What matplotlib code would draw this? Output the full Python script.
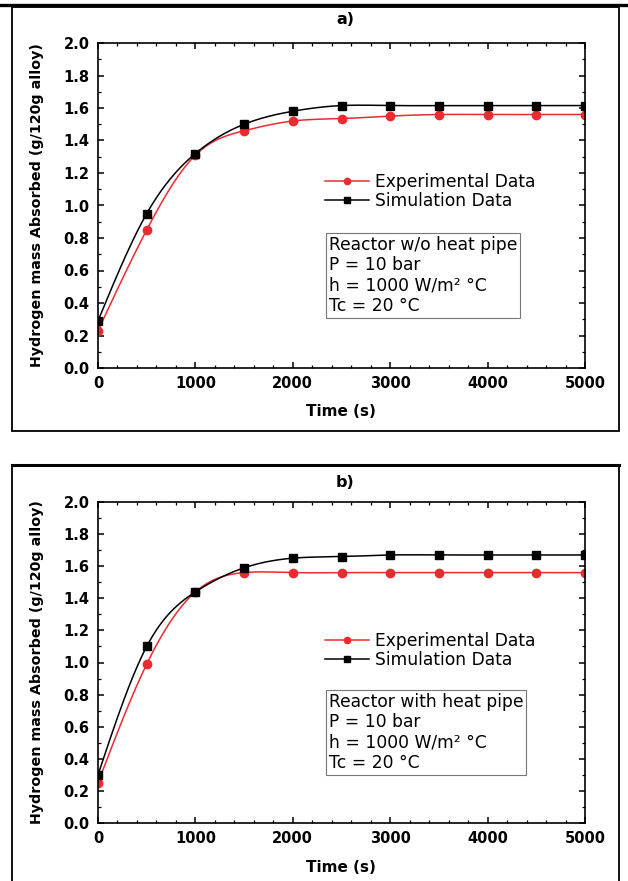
import numpy as np
import matplotlib
matplotlib.use("Agg")
import matplotlib.pyplot as plt
from matplotlib.patches import Rectangle
from matplotlib.lines import Line2D
from matplotlib.ticker import MultipleLocator

plt.rcParams['font.family'] = ['DejaVu Sans']

# ---------------- data ----------------
time_s = [0, 500, 1000, 1500, 2000, 2500, 3000, 3500, 4000, 4500, 5000]

exp_a = [0.23, 0.85, 1.31, 1.46, 1.52, 1.535, 1.55, 1.56, 1.56, 1.56, 1.56]
sim_a = [0.29, 0.95, 1.32, 1.50, 1.58, 1.615, 1.615, 1.615, 1.615, 1.615, 1.615]

exp_b = [0.25, 0.99, 1.44, 1.56, 1.56, 1.56, 1.56, 1.56, 1.56, 1.56, 1.56]
sim_b = [0.30, 1.10, 1.44, 1.59, 1.65, 1.66, 1.67, 1.67, 1.67, 1.67, 1.67]

panel_titles = ["a)", "b)"]
box_texts = [
    "Reactor w/o heat pipe\nP = 10 bar\nh = 1000 W/m\u00b2 \u00b0C\nTc = 20 \u00b0C",
    "Reactor with heat pipe\nP = 10 bar\nh = 1000 W/m\u00b2 \u00b0C\nTc = 20 \u00b0C",
]
legend_labels = ["Experimental Data", "Simulation Data"]
x_label = "Time (s)"
y_label = "Hydrogen mass Absorbed (g/120g alloy)"

RED = "#ec2a30"
BLACK = "#000000"


def spline_curve(x, y, num=400):
    """Natural cubic spline through the data points (Origin-style 'spline' connection)."""
    x = np.asarray(x, float)
    y = np.asarray(y, float)
    n = len(x)
    h = np.diff(x)
    A = np.zeros((n, n))
    b = np.zeros(n)
    A[0, 0] = A[-1, -1] = 1.0
    for i in range(1, n - 1):
        A[i, i - 1] = h[i - 1]
        A[i, i] = 2 * (h[i - 1] + h[i])
        A[i, i + 1] = h[i]
        b[i] = 6 * ((y[i + 1] - y[i]) / h[i] - (y[i] - y[i - 1]) / h[i - 1])
    M = np.linalg.solve(A, b)
    xs = np.linspace(x[0], x[-1], num)
    idx = np.clip(np.searchsorted(x, xs) - 1, 0, n - 2)
    t0 = x[idx]
    t1 = x[idx + 1]
    hh = h[idx]
    ys = (M[idx] * (t1 - xs) ** 3 / (6 * hh)
          + M[idx + 1] * (xs - t0) ** 3 / (6 * hh)
          + (y[idx] / hh - M[idx] * hh / 6) * (t1 - xs)
          + (y[idx + 1] / hh - M[idx + 1] * hh / 6) * (xs - t0))
    return xs, ys


W, H = 628, 881
fig = plt.figure(figsize=(W / 100, H / 100), dpi=100)


def fx(px):
    return px / W


def fy(py):
    return 1 - py / H


# page decorations (outer frames)
fig.add_artist(Line2D([0, 1], [fy(5), fy(5)], color='black', lw=2.4, transform=fig.transFigure))
fig.add_artist(Rectangle((fx(12), fy(431)), fx(619) - fx(12), fy(7) - fy(431),
                         transform=fig.transFigure, fill=False, ec='black', lw=1.3))
fig.add_artist(Rectangle((fx(12), fy(895)), fx(619) - fx(12), fy(465) - fy(895),
                         transform=fig.transFigure, fill=False, ec='black', lw=1.3))
fig.add_artist(Line2D([fx(12), fx(619)], [fy(465), fy(465)], color='black', lw=2.2,
                      transform=fig.transFigure))

panels = [
    dict(top=43, bottom=368, exp=exp_a, sim=sim_a, title_y=19, xlabel_y=412,
         leg_top=173, box_top=234, box_left=327),
    dict(top=502, bottom=823, exp=exp_b, sim=sim_b, title_y=483, xlabel_y=867,
         leg_top=632, box_top=691, box_left=327),
]

for k, p in enumerate(panels):
    left, right = 98, 585
    ax = fig.add_axes([fx(left), fy(p['bottom']), fx(right) - fx(left),
                       fy(p['top']) - fy(p['bottom'])])
    xe, ye = spline_curve(time_s, p['exp'])
    xs_, ys_ = spline_curve(time_s, p['sim'])
    ax.plot(xe, ye, color=RED, lw=1.1)
    ax.plot(xs_, ys_, color=BLACK, lw=1.1)
    ax.plot(time_s, p['exp'], 'o', color=RED, ms=6, mec=RED)
    ax.plot(time_s, p['sim'], 's', color=BLACK, ms=5.8)

    ax.set_xlim(0, 5000)
    ax.set_ylim(0, 2.0)
    ax.xaxis.set_major_locator(MultipleLocator(1000))
    ax.xaxis.set_minor_locator(MultipleLocator(200))
    ax.yaxis.set_major_locator(MultipleLocator(0.2))
    ax.yaxis.set_minor_locator(MultipleLocator(0.1))
    ax.yaxis.set_major_formatter(matplotlib.ticker.FormatStrFormatter('%.1f'))
    ax.tick_params(which='both', direction='in', top=True, right=True)
    ax.tick_params(which='major', length=4.5, width=1.1, labelsize=10.5, pad=6)
    ax.tick_params(which='minor', length=2.5, width=0.9)
    for lab in ax.get_xticklabels() + ax.get_yticklabels():
        lab.set_fontweight('bold')
    for sp in ax.spines.values():
        sp.set_linewidth(1.2)

    fig.text(fx(345), fy(p['title_y']), panel_titles[k], ha='center', va='center',
             fontsize=11.5, fontweight='bold')
    fig.text(fx(341), fy(p['xlabel_y']), x_label, ha='center', va='center',
             fontsize=11, fontweight='bold')
    fig.text(fx(37), fy((p['top'] + p['bottom']) / 2), y_label, ha='center', va='center',
             rotation=90, fontsize=10.3, fontweight='bold')

    handles = [Line2D([], [], color=RED, lw=1.1, marker='o', ms=4.5),
               Line2D([], [], color=BLACK, lw=1.1, marker='s', ms=4.2)]
    ax.legend(handles, legend_labels, loc='upper left',
              bbox_to_anchor=(fx(325), fy(p['leg_top'])), bbox_transform=fig.transFigure,
              frameon=False, fontsize=12.3, handlelength=2.6, handletextpad=0.35,
              borderpad=0, borderaxespad=0, labelspacing=0.08, numpoints=1)

    ax.text(fx(p['box_left'] + 2), fy(p['box_top'] + 2), box_texts[k],
            transform=fig.transFigure, ha='left', va='top', fontsize=12.3,
            linespacing=1.17,
            bbox=dict(boxstyle='square,pad=0.15', fc='white', ec='#777777', lw=0.8))

fig.savefig("out.png", dpi=100)
